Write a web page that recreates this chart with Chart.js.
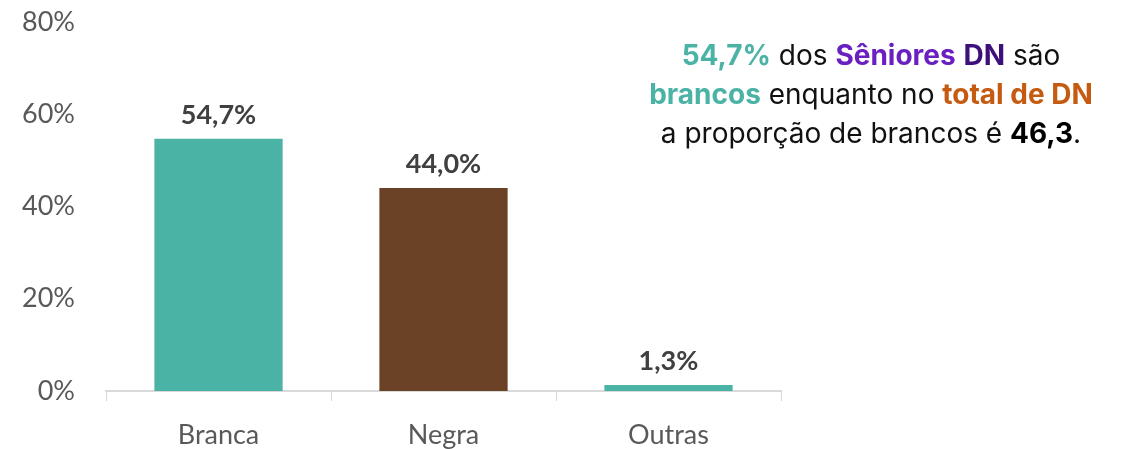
<!DOCTYPE html>
<html>
<head>
<meta charset="utf-8">
<script src="https://cdn.jsdelivr.net/npm/chart.js@4.4.0/dist/chart.umd.min.js"></script>
<style>
  html, body { margin: 0; padding: 0; background: #fff; }
  #wrap { position: relative; width: 1128px; height: 449px; }
  #note {
    position: absolute; left: 580px; top: 36px; width: 582px;
    text-align: center; font-family: Inter, "Noto Sans", sans-serif;
    font-size: 28px; line-height: 39px; color: #111;
  }
  .teal { color: #4bb3a5; font-weight: bold; }
  .purple { color: #6a1fc0; font-weight: bold; }
  .dpurple { color: #3d0f7a; font-weight: bold; }
  .orange { color: #c55a11; font-weight: bold; }
  .black { color: #000; font-weight: bold; }
</style>
</head>
<body>
<div id="wrap">
  <canvas id="chart" width="1128" height="449"></canvas>
  <div id="note">
    <span class="teal">54,7%</span> dos <span class="purple">Sêniores</span> <span class="dpurple">DN</span> são<br>
    <span class="teal">brancos</span> enquanto no <span class="orange">total de DN</span><br>
    a proporção de brancos é <span class="black">46,3</span>.
  </div>
</div>
<script>
// dados
const categorias = ['Branca', 'Negra', 'Outras'];
const valores = [54.7, 44.0, 1.3];
const rotulos = ['54,7%', '44,0%', '1,3%'];
const coresBarras = ['#4bb3a5', '#6b4226', '#4bb3a5'];
const ticksY = [0, 20, 40, 60, 80];

// rótulos de dados acima das barras (sem plugin externo)
const rotulosPlugin = {
  id: 'rotulos',
  afterDatasetsDraw(chart) {
    const ctx = chart.ctx;
    const meta = chart.getDatasetMeta(0);
    ctx.save();
    ctx.font = 'bold 27px Lato, "Open Sans", sans-serif';
    ctx.fillStyle = '#404040';
    ctx.textAlign = 'center';
    ctx.textBaseline = 'bottom';
    meta.data.forEach((bar, i) => {
      ctx.fillText(rotulos[i], bar.x, bar.y - 10);
    });
    ctx.restore();
  }
};

const ctx = document.getElementById('chart').getContext('2d');
new Chart(ctx, {
  type: 'bar',
  data: {
    labels: categorias,
    datasets: [{
      data: valores,
      backgroundColor: coresBarras,
      barPercentage: 0.57,
      categoryPercentage: 1.0,
    }]
  },
  options: {
    responsive: false,
    animation: false,
    layout: { padding: { top: 22, right: 347, left: 0, bottom: 0 } },
    plugins: { legend: { display: false }, tooltip: { enabled: false } },
    scales: {
      x: {
        border: { display: true, color: '#d9d9d9', width: 2 },
        grid: { display: true, drawOnChartArea: false, drawTicks: true, tickLength: 10, color: '#d9d9d9', offset: true },
        ticks: { color: '#595959', font: { family: 'Lato, "Open Sans", sans-serif', size: 27 }, padding: 18 },
        afterFit(scale) { scale.height = 58; scale.paddingLeft = 0; scale.paddingRight = 0; }
      },
      y: {
        min: 0, max: 80,
        border: { display: false },
        grid: { display: false },
        afterBuildTicks(scale) { scale.ticks = ticksY.map(v => ({ value: v })); },
        ticks: {
          color: '#595959',
          font: { family: 'Lato, "Open Sans", sans-serif', size: 27 },
          padding: 23,
          callback: v => v + '%'
        },
        afterFit(scale) { scale.width = 106; scale.paddingTop = 0; scale.paddingBottom = 0; }
      }
    }
  },
  plugins: [rotulosPlugin]
});
</script>
</body>
</html>
